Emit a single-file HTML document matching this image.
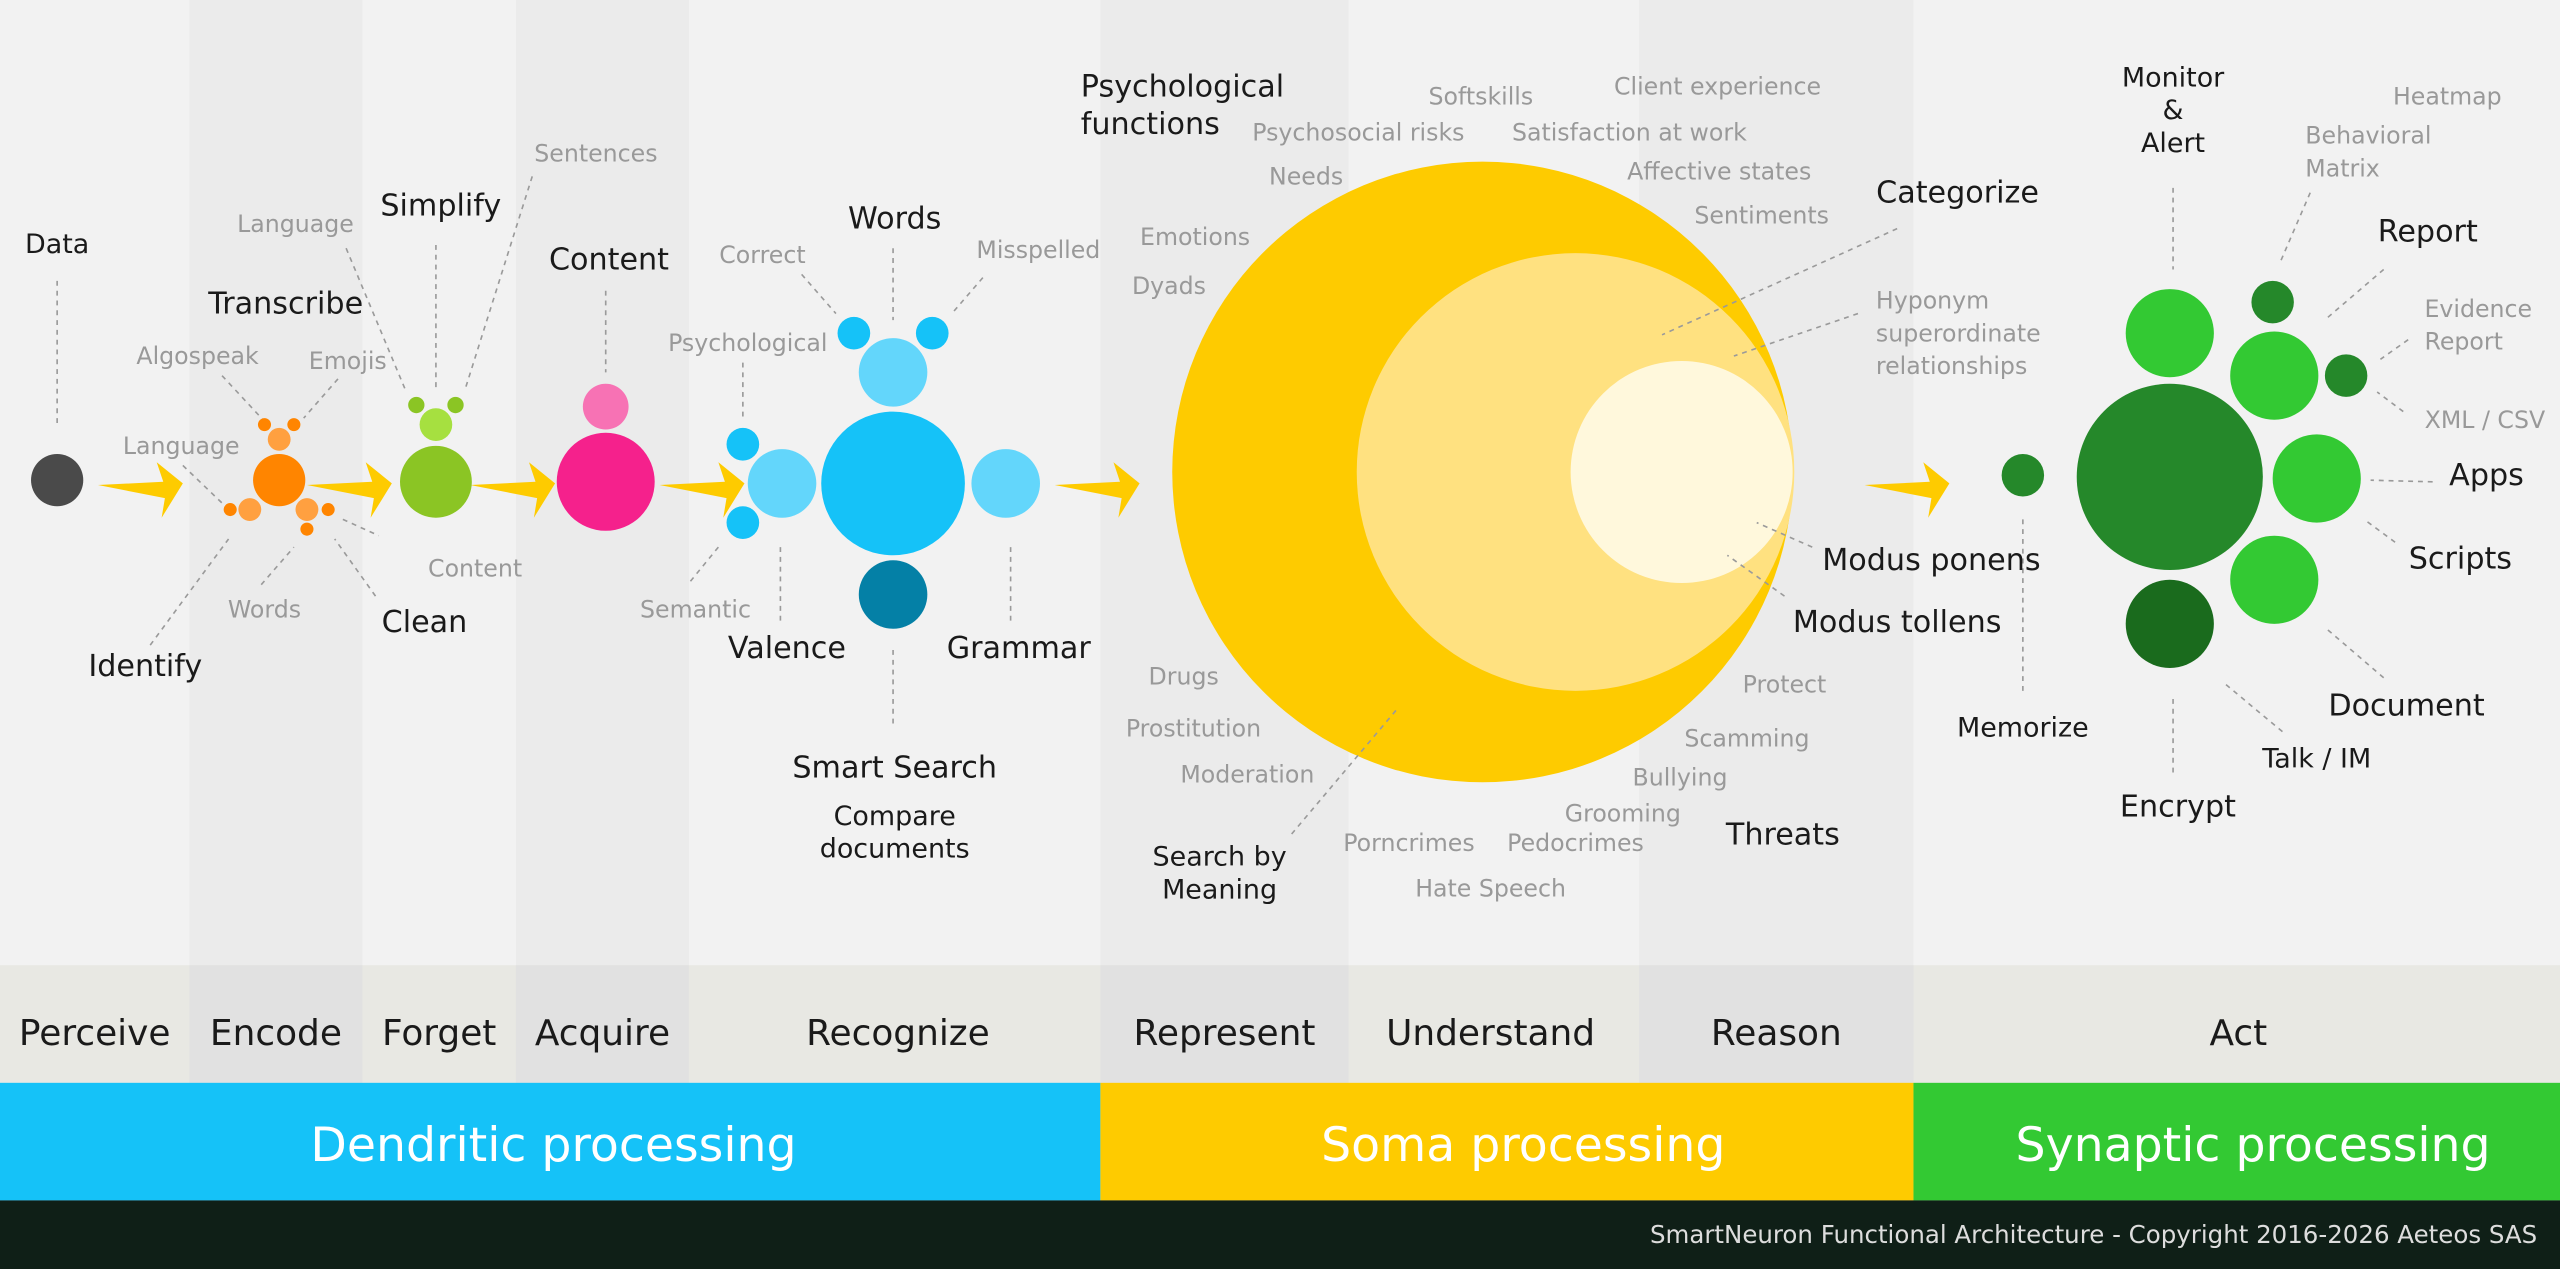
<!DOCTYPE html>
<html><head><meta charset="utf-8"><style>
html,body{margin:0;padding:0;width:2560px;height:1269px;overflow:hidden;background:#f2f2f2}
svg{display:block}
text{font-family:"DejaVu Sans","Liberation Sans",sans-serif}
.k{fill:#1a1a1a;font-size:18.5px}
.g{fill:#999;font-size:14.5px}
.s{fill:#1a1a1a;font-size:16.5px}
.d{stroke:#9a9a9a;stroke-width:1;stroke-dasharray:3,3;fill:none}
.lab{fill:#1a1a1a;font-size:22px}
.band{fill:#fff;font-size:29px}
</style></head><body>
<svg width="2560" height="1269" viewBox="0 0 1568 777" preserveAspectRatio="none" xmlns="http://www.w3.org/2000/svg">
<defs>
<polygon id="arr" points="0,0 40,-2 36,-14 52,-1 39,20 41,8" fill="#fecb00"/>
</defs>
<rect x="0" y="0" width="1568" height="591" fill="#f2f2f2"/>
<rect x="116" y="0" width="106" height="591" fill="#ebebeb"/>
<rect x="316" y="0" width="106" height="591" fill="#ebebeb"/>
<rect x="674" y="0" width="152" height="591" fill="#ebebeb"/>
<rect x="1004" y="0" width="168" height="591" fill="#ebebeb"/>
<rect x="0" y="591" width="1568" height="72" fill="#e8e8e3"/>
<rect x="116" y="591" width="106" height="72" fill="#e1e1e1"/>
<rect x="316" y="591" width="106" height="72" fill="#e1e1e1"/>
<rect x="674" y="591" width="152" height="72" fill="#e1e1e1"/>
<rect x="1004" y="591" width="168" height="72" fill="#e1e1e1"/>
<g class="lab" text-anchor="middle">
<text x="58" y="640">Perceive</text><text x="169" y="640">Encode</text><text x="269" y="640">Forget</text>
<text x="369" y="640">Acquire</text><text x="550" y="640">Recognize</text><text x="750" y="640">Represent</text>
<text x="913" y="640">Understand</text><text x="1088" y="640">Reason</text><text x="1371" y="640">Act</text>
</g>
<rect x="0" y="663" width="674" height="72" fill="#15c2f8"/>
<rect x="674" y="663" width="498" height="72" fill="#fecb00"/>
<rect x="1172" y="663" width="396" height="72" fill="#33c933"/>
<g class="band" text-anchor="middle">
<text x="339" y="711">Dendritic processing</text><text x="933" y="711">Soma processing</text><text x="1380" y="711">Synaptic processing</text>
</g>
<rect x="0" y="735" width="1568" height="42" fill="#0f1f17"/>
<text x="1554" y="761" text-anchor="end" fill="#ddd" font-size="15">SmartNeuron Functional Architecture - Copyright 2016-2026 Aeteos SAS</text>

<g class="d">
<path d="M35 172V262M92 395L140 330M112 285L136 308M136 230L162 258M207 232L186 256M212 152L248 238M267 150V238M326 108L285 238M210 318L232 328M230 365L205 330M160 358L180 335M371 178V228M491 168L512 192M547 152V196M602 170L583 192M455 222V258M440 335L422 357M478 335V380M619 335V380M547 398V445M1239 318V425M1331 115V165M1415 118L1396 162M1460 165L1425 195M1475 208L1458 220M1472 252L1456 240M1490 295L1452 294M1467 332L1448 318M1460 415L1425 385M1398 448L1362 418M1331 428V475"/>
</g>

<use href="#arr" x="60" y="297"/><use href="#arr" x="188" y="297"/><use href="#arr" x="288" y="297"/>
<use href="#arr" x="404" y="297"/><use href="#arr" x="646" y="297"/><use href="#arr" x="1142" y="297"/>

<circle cx="35" cy="294" r="16" fill="#4a4a4a"/>
<circle cx="171" cy="294" r="16" fill="#ff8500"/>
<circle cx="171" cy="269" r="7" fill="#ffa040"/><circle cx="153" cy="312" r="7" fill="#ffa040"/><circle cx="188" cy="312" r="7" fill="#ffa040"/>
<g fill="#ff8500"><circle cx="162" cy="260" r="4"/><circle cx="180" cy="260" r="4"/><circle cx="141" cy="312" r="4"/><circle cx="201" cy="312" r="4"/><circle cx="188" cy="324" r="4"/></g>
<circle cx="267" cy="295" r="22" fill="#8bc524"/><circle cx="267" cy="260" r="10" fill="#a6e040"/>
<circle cx="255" cy="248" r="5" fill="#8bc524"/><circle cx="279" cy="248" r="5" fill="#8bc524"/>
<circle cx="371" cy="295" r="30" fill="#f5218c"/><circle cx="371" cy="249" r="14" fill="#f772b4"/>
<circle cx="547" cy="296" r="44" fill="#15c2f8"/>
<g fill="#63d6fb"><circle cx="547" cy="228" r="21"/><circle cx="479" cy="296" r="21"/><circle cx="616" cy="296" r="21"/></g>
<circle cx="547" cy="364" r="21" fill="#0480a6"/>
<g fill="#15c2f8"><circle cx="523" cy="204" r="10"/><circle cx="571" cy="204" r="10"/><circle cx="455" cy="272" r="10"/><circle cx="455" cy="320" r="10"/></g>
<circle cx="908" cy="289" r="190" fill="#fecb00"/>
<circle cx="965" cy="289" r="134" fill="#ffe180"/>
<circle cx="1030" cy="289" r="68" fill="#fff8dc"/>
<g class="d"><path d="M1162 140L1018 205M1138 192L1062 218M1110 335L1076 320M1093 365L1058 340M855 435L790 512"/></g>
<circle cx="1239" cy="291" r="13" fill="#25882a"/>
<circle cx="1329" cy="292" r="57" fill="#25882a"/>
<g fill="#33c933"><circle cx="1329" cy="204" r="27"/><circle cx="1393" cy="230" r="27"/><circle cx="1419" cy="293" r="27"/><circle cx="1393" cy="355" r="27"/></g>
<circle cx="1392" cy="185" r="13" fill="#25882a"/><circle cx="1437" cy="230" r="13" fill="#25882a"/>
<circle cx="1329" cy="382" r="27" fill="#1a6b1d"/>

<g text-anchor="middle">
<text class="s" x="35" y="155">Data</text><text class="k" x="89" y="414">Identify</text>
<text class="k" x="175" y="192">Transcribe</text><text class="g" x="181" y="142">Language</text>
<text class="g" x="121" y="223">Algospeak</text><text class="g" x="213" y="226">Emojis</text>
<text class="g" x="111" y="278">Language</text><text class="g" x="162" y="378">Words</text>
<text class="g" x="291" y="353">Content</text>
<text class="k" x="270" y="132">Simplify</text><text class="g" x="365" y="99">Sentences</text><text class="k" x="260" y="387">Clean</text>
<text class="k" x="373" y="165">Content</text>
<text class="k" x="548" y="140">Words</text><text class="g" x="467" y="161">Correct</text><text class="g" x="636" y="158">Misspelled</text>
<text class="g" x="458" y="215">Psychological</text><text class="g" x="426" y="378">Semantic</text>
<text class="k" x="482" y="403">Valence</text><text class="k" x="624" y="403">Grammar</text>
<text class="k" x="548" y="476">Smart Search</text><text class="s" x="548" y="505">Compare</text><text class="s" x="548" y="525">documents</text>
<text class="g" x="907" y="64">Softskills</text><text class="g" x="1052" y="58" font-size="16.5">Client experience</text>
<text class="g" x="832" y="86">Psychosocial risks</text><text class="g" x="998" y="86">Satisfaction at work</text>
<text class="g" x="800" y="113">Needs</text><text class="g" x="1053" y="110">Affective states</text>
<text class="g" x="1079" y="137">Sentiments</text><text class="g" x="732" y="150">Emotions</text>
<text class="g" x="716" y="180" font-size="16.5">Dyads</text>
<text class="k" x="1199" y="124">Categorize</text>
<text class="k" x="1183" y="349">Modus ponens</text><text class="k" x="1162" y="387">Modus tollens</text>
<text class="g" x="1093" y="424">Protect</text><text class="g" x="1070" y="457">Scamming</text>
<text class="g" x="1029" y="481">Bullying</text><text class="g" x="994" y="503">Grooming</text>
<text class="g" x="965" y="521">Pedocrimes</text><text class="g" x="863" y="521">Porncrimes</text>
<text class="g" x="913" y="549">Hate Speech</text><text class="k" x="1092" y="517">Threats</text>
<text class="g" x="725" y="419">Drugs</text><text class="g" x="731" y="451">Prostitution</text><text class="g" x="764" y="479">Moderation</text>
<text class="s" x="747" y="530">Search by</text><text class="s" x="747" y="550">Meaning</text>
<text class="s" x="1331" y="53">Monitor</text><text class="s" x="1331" y="73">&amp;</text><text class="s" x="1331" y="93">Alert</text>
<text class="g" x="1499" y="64">Heatmap</text>
<text class="k" x="1487" y="148">Report</text><text class="g" x="1522" y="262">XML / CSV</text>
<text class="k" x="1523" y="297">Apps</text><text class="k" x="1507" y="348">Scripts</text>
<text class="k" x="1474" y="438">Document</text><text class="s" x="1419" y="470">Talk / IM</text>
<text class="k" x="1334" y="500">Encrypt</text><text class="s" x="1239" y="451">Memorize</text>
</g>
<g>
<text class="k" x="662" y="59">Psychological</text><text class="k" x="662" y="82">functions</text>
<text class="g" x="1149" y="189">Hyponym</text><text class="g" x="1149" y="209">superordinate</text><text class="g" x="1149" y="229">relationships</text>
<text class="g" x="1412" y="88">Behavioral</text><text class="g" x="1412" y="108">Matrix</text>
<text class="g" x="1485" y="194">Evidence</text><text class="g" x="1485" y="214">Report</text>
</g>
</svg>
</body></html>
